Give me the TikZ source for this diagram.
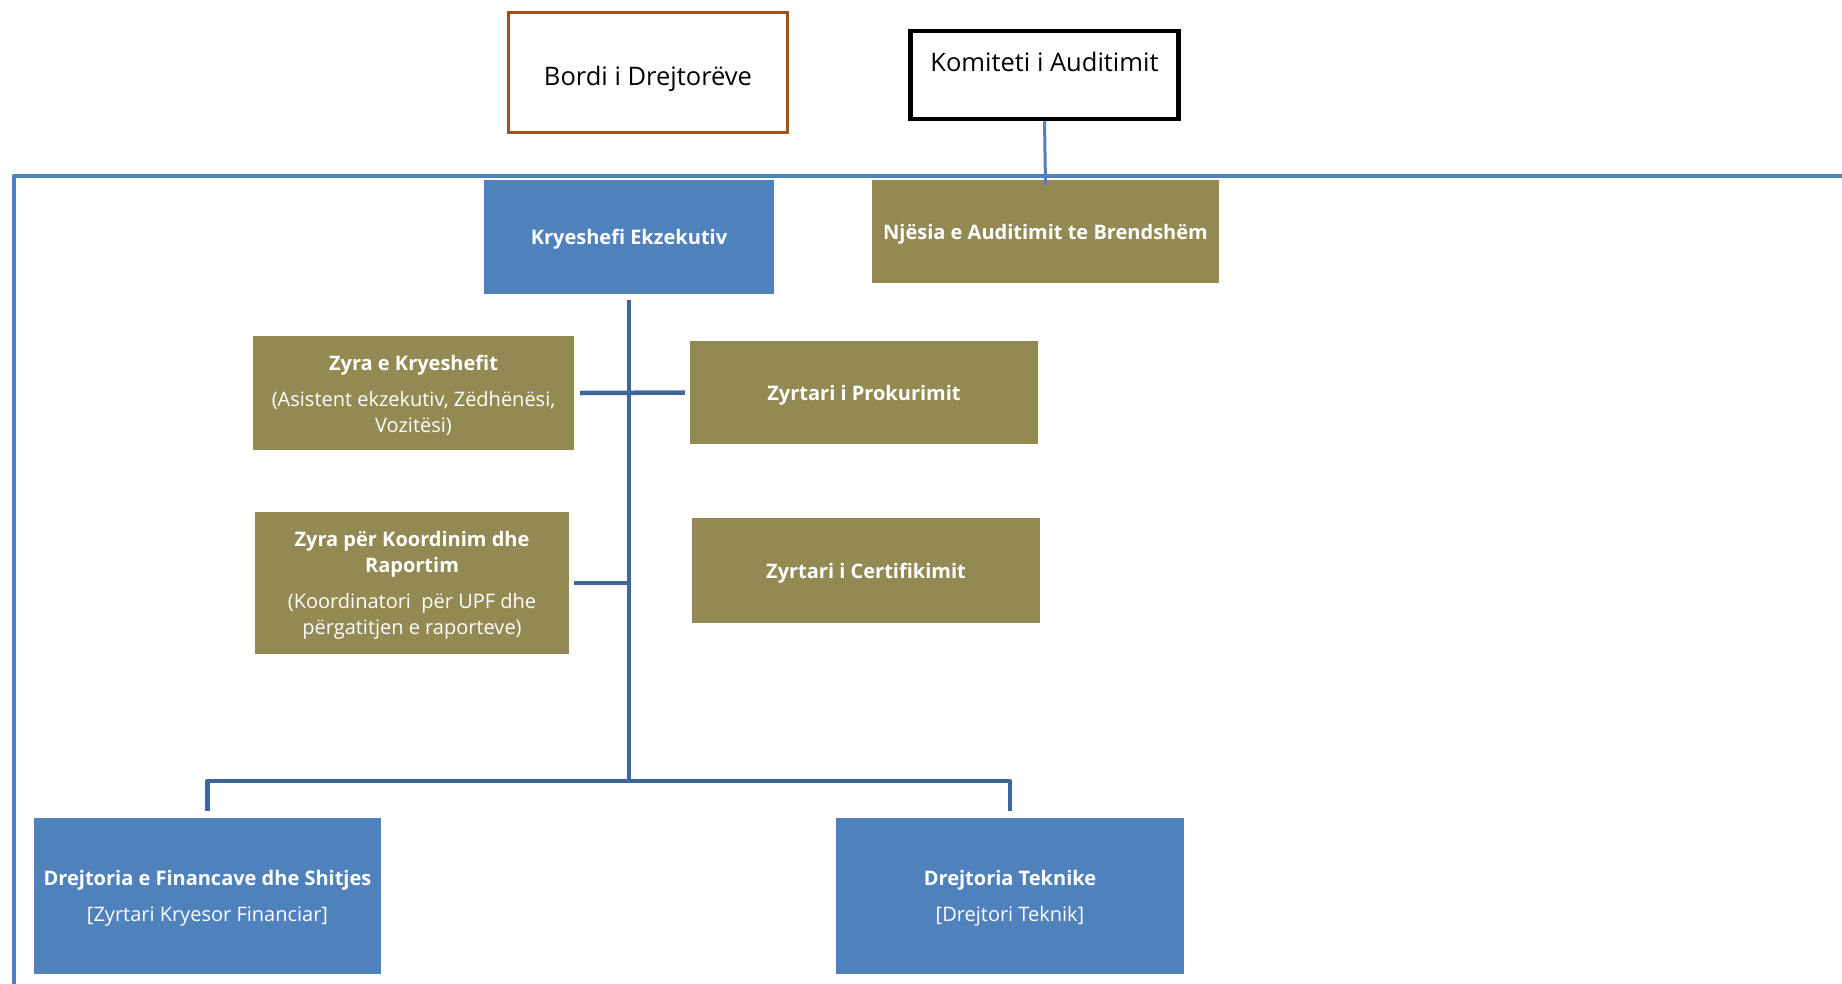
\documentclass[tikz,border=0pt]{standalone}
\usepackage{fontspec}
\setmainfont{Open Sans}
\definecolor{boxblue}{HTML}{4F81BD}
\definecolor{olivebox}{HTML}{938953}
\definecolor{trunkblue}{HTML}{3E6699}
\definecolor{brownb}{HTML}{A0501A}
\newcommand{\boxstrut}{\rule{0pt}{20.5pt}}
\begin{document}
\begin{tikzpicture}[x=1pt,y=-1pt,
  box/.style={rectangle, inner sep=0pt, align=center, text=white,
    font=\fontsize{20}{26}\selectfont},
  bfont/.style={font=\bfseries\fontsize{20}{26}\selectfont},
  bluebox/.style={box, fill=boxblue},
  olbox/.style={box, fill=olivebox},
  topbox/.style={rectangle, inner sep=0pt, align=center, fill=white,
    font=\fontsize{25.5}{30}\selectfont},
  frameline/.style={draw=boxblue, line width=4.5pt},
  trunkline/.style={draw=trunkblue, line width=4.5pt},
  auditline/.style={draw=boxblue, line width=3pt}]
\useasboundingbox (0,0) rectangle (1842,983);

% frame
\coordinate (fbl) at (14,990);
\coordinate (ftl) at (14,176);
\coordinate (ftr) at (1850,176);
\draw[frameline, line join=round] (fbl) -- (ftl) -- (ftr);

% top boxes
\node[topbox, draw=brownb, line width=3pt, minimum width=279, minimum height=120] (bordi) at (648,72) {\raisebox{-6.5pt}[\height][\depth]{Bordi i Drejtorëve}};
\node[topbox, draw=black, line width=4.5pt, minimum width=268, minimum height=88] (kom) at (1044.5,75) {\raisebox{13pt}[\height][\depth]{Komiteti i Auditimit}};

% boxes
\node[bluebox, bfont, minimum width=290, minimum height=114] (kry) at (629,237) {\boxstrut Kryeshefi Ekzekutiv};
\node[olbox, bfont, minimum width=347, minimum height=103] (nje) at (1045.5,231.5) {\boxstrut Njësia e Auditimit te Brendshëm};
\node[olbox, minimum width=321, minimum height=114] (zk) at (413.5,393) {\boxstrut\textbf{Zyra e Kryeshefit}\\[10pt](Asistent ekzekutiv, Zëdhënësi,\\Vozitësi)};
\node[olbox, bfont, minimum width=348, minimum height=103] (prok) at (864,392.5) {\boxstrut Zyrtari i Prokurimit};
\node[olbox, minimum width=314, minimum height=142] (koord) at (412,583) {\boxstrut\textbf{Zyra për Koordinim dhe}\\\textbf{Raportim}\\[10pt](Koordinatori~~për UPF dhe\\përgatitjen e raporteve)};
\node[olbox, bfont, minimum width=348, minimum height=105] (cert) at (866,570.5) {\boxstrut Zyrtari i Certifikimit};
\node[bluebox, minimum width=347, minimum height=156] (fin) at (207.5,896) {\boxstrut\textbf{Drejtoria e Financave dhe Shitjes}\\[10pt]{}[Zyrtari Kryesor Financiar]};
\node[bluebox, minimum width=348, minimum height=156] (tek) at (1010,896) {\boxstrut\textbf{Drejtoria Teknike}\\[10pt]{}[Drejtori Teknik]};

% connectors
\draw[auditline] (kom.south) -- ([yshift=-5pt]nje.north);
\coordinate (bar) at (629,781);
\draw[trunkline] ([yshift=-6pt]kry.south) -- (bar);
\draw[trunkline] ([xshift=6pt]zk.east) -- ([xshift=-5pt]prok.west);
\draw[trunkline] ([xshift=5pt]koord.east) -- (koord.east -| kry.south);
\draw[trunkline, line join=round] ([yshift=7pt]fin.north) -- (fin.north |- bar) -- (tek.north |- bar) -- ([yshift=7pt]tek.north);
\end{tikzpicture}
\end{document}
